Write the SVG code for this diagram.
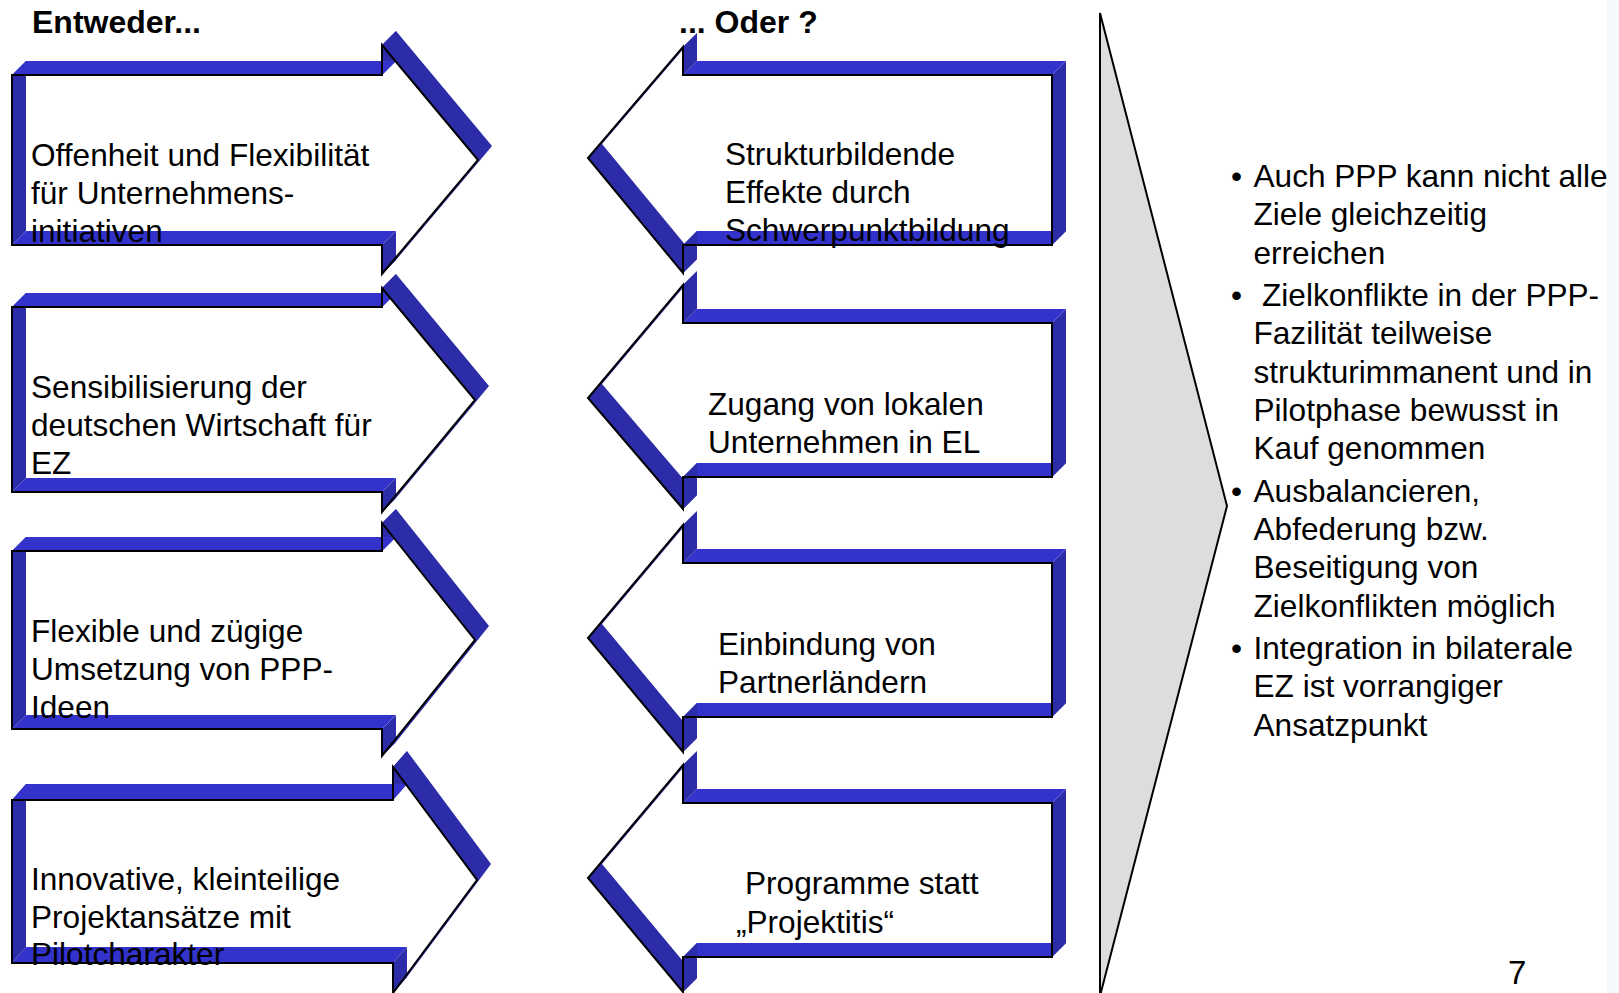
<svg xmlns="http://www.w3.org/2000/svg" width="1619" height="993" viewBox="0 0 1619 993">
<style>
  .lt{fill:#3333CC}
  .dk{fill:#2C2CA8}
  .ol{fill:none;stroke:#000;stroke-width:2;stroke-linejoin:miter}
  text{font-family:"Liberation Sans",Arial,sans-serif;fill:#000}
  .t{font-size:31.6px}
  .h{font-size:32px;font-weight:bold}
</style>
<rect x="0" y="0" width="1619" height="993" fill="#fff"/>
<rect x="1607" y="0" width="12" height="993" fill="#F3F9FB"/>

<text class="h" x="32" y="33">Entweder...</text>
<text class="h" x="679" y="33">... Oder ?</text>

<g id="node-L1">
  <path class="dk" d="M12,75 L26,61 L26,231 L12,245 Z M382,75 L382,45 L396,31 L396,61 Z M382,245 L382,274 L396,260 L396,231 Z"/>
  <path class="lt" d="M12,245 L26,231 L396,231 L382,245 Z"/>
  <path class="lt" d="M12,75 L26,61 L396,61 L382,75 Z"/>
  <path class="dk" d="M382,45 L478,160 L492,146 L396,31 Z M478,160 L382,274 L396,260 L492,146 Z"/>
  <path class="ol" d="M12,75 H382 V45 L478,160 L382,274 V245 H12 Z"/>
  <text class="t" x="31" y="166">Offenheit und Flexibilität</text>
  <text class="t" x="31" y="203.5">für Unternehmens-</text>
  <text class="t" x="31" y="241.5">initiativen</text>
</g>

<g id="node-L2">
  <path class="dk" d="M12,307 L26,293 L26,478 L12,492 Z M382,307 L382,288 L396,274 L396,293 Z M382,492 L382,512 L396,498 L396,478 Z"/>
  <path class="lt" d="M12,492 L26,478 L396,478 L382,492 Z"/>
  <path class="lt" d="M12,307 L26,293 L396,293 L382,307 Z"/>
  <path class="dk" d="M382,288 L475,400 L489,386 L396,274 Z M475,400 L382,512 L396,498 L489,386 Z"/>
  <path class="ol" d="M12,307 H382 V288 L475,400 L382,512 V492 H12 Z"/>
  <text class="t" x="31" y="398">Sensibilisierung der</text>
  <text class="t" x="31" y="436">deutschen Wirtschaft für</text>
  <text class="t" x="31" y="473.5">EZ</text>
</g>

<g id="node-L3">
  <path class="dk" d="M12,551 L26,537 L26,715 L12,729 Z M382,551 L382,523 L396,509 L396,537 Z M382,729 L382,756 L396,742 L396,715 Z"/>
  <path class="lt" d="M12,729 L26,715 L396,715 L382,729 Z"/>
  <path class="lt" d="M12,551 L26,537 L396,537 L382,551 Z"/>
  <path class="dk" d="M382,523 L475,640 L489,626 L396,509 Z M475,640 L382,756 L396,742 L489,626 Z"/>
  <path class="ol" d="M12,551 H382 V523 L475,640 L382,756 V729 H12 Z"/>
  <text class="t" x="31" y="642">Flexible und zügige</text>
  <text class="t" x="31" y="680">Umsetzung von PPP-</text>
  <text class="t" x="31" y="718">Ideen</text>
</g>

<g id="node-L4">
  <path class="dk" d="M12,800 L26,784 L26,947 L12,963 Z M393,800 L393,767 L407,751 L407,784 Z M393,963 L393,993 L407,977 L407,947 Z"/>
  <path class="lt" d="M12,963 L26,947 L407,947 L393,963 Z"/>
  <path class="lt" d="M12,800 L26,784 L407,784 L393,800 Z"/>
  <path class="dk" d="M393,767 L477,880 L491,864 L407,751 Z M477,880 L393,993 L407,977 L491,864 Z"/>
  <path class="ol" d="M12,800 H393 V767 L477,880 L393,993 V963 H12 Z"/>
  <text class="t" x="31" y="890">Innovative, kleinteilige</text>
  <text class="t" x="31" y="927.5">Projektansätze mit</text>
  <text class="t" x="31" y="965">Pilotcharakter</text>
</g>

<g id="node-R1">
  <path class="dk" d="M683,273 L588,158 L602,144 L697,259 Z M588,158 L683,47 L697,33 L602,144 Z"/>
  <path class="lt" d="M1052,245 L683,245 L697,231 L1066,231 Z"/>
  <path class="lt" d="M683,75 L697,61 L1066,61 L1052,75 Z"/>
  <path class="dk" d="M1052,75 L1066,61 L1066,231 L1052,245 Z M683,47 L683,75 L697,61 L697,33 Z M683,245 L683,273 L697,259 L697,231 Z"/>
  <path class="ol" d="M683,75 H1052 V245 H683 V273 L588,158 L683,47 Z"/>
  <text class="t" x="725" y="164.5">Strukturbildende</text>
  <text class="t" x="725" y="202.5">Effekte durch</text>
  <text class="t" x="725" y="240.5">Schwerpunktbildung</text>
</g>

<g id="node-R2">
  <path class="dk" d="M683,509 L588,398 L602,384 L697,495 Z M588,398 L683,285 L697,271 L602,384 Z"/>
  <path class="lt" d="M1052,477 L683,477 L697,463 L1066,463 Z"/>
  <path class="lt" d="M683,323 L697,309 L1066,309 L1052,323 Z"/>
  <path class="dk" d="M1052,323 L1066,309 L1066,463 L1052,477 Z M683,285 L683,323 L697,309 L697,271 Z M683,477 L683,509 L697,495 L697,463 Z"/>
  <path class="ol" d="M683,323 H1052 V477 H683 V509 L588,398 L683,285 Z"/>
  <text class="t" x="708" y="414.5">Zugang von lokalen</text>
  <text class="t" x="708" y="452.5">Unternehmen in EL</text>
</g>

<g id="node-R3">
  <path class="dk" d="M683,752 L588,638 L602,624 L697,738 Z M588,638 L683,525 L697,511 L602,624 Z"/>
  <path class="lt" d="M1052,717 L683,717 L697,703 L1066,703 Z"/>
  <path class="lt" d="M683,563 L697,549 L1066,549 L1052,563 Z"/>
  <path class="dk" d="M1052,563 L1066,549 L1066,703 L1052,717 Z M683,525 L683,563 L697,549 L697,511 Z M683,717 L683,752 L697,738 L697,703 Z"/>
  <path class="ol" d="M683,563 H1052 V717 H683 V752 L588,638 L683,525 Z"/>
  <text class="t" x="718" y="654.5">Einbindung von</text>
  <text class="t" x="718" y="692.5">Partnerländern</text>
</g>

<g id="node-R4">
  <path class="dk" d="M683,992 L588,878 L602,864 L697,978 Z M588,878 L683,765 L697,751 L602,864 Z"/>
  <path class="lt" d="M1052,957 L683,957 L697,943 L1066,943 Z"/>
  <path class="lt" d="M683,803 L697,789 L1066,789 L1052,803 Z"/>
  <path class="dk" d="M1052,803 L1066,789 L1066,943 L1052,957 Z M683,765 L683,803 L697,789 L697,751 Z M683,957 L683,992 L697,978 L697,943 Z"/>
  <path class="ol" d="M683,803 H1052 V957 H683 V992 L588,878 L683,765 Z"/>
  <text class="t" x="745" y="894">Programme statt</text>
  <text class="t" x="736" y="932.5">„Projektitis“</text>
</g>

<g id="connectors"></g>

<g id="node-summary">
  <polygon points="1100,13 1227,506 1100,996" fill="#DDDDDD" stroke="#000" stroke-width="2" stroke-linejoin="miter"/>
  <g class="t">
    <text class="t" x="1231" y="186.5">•</text>
    <text class="t" x="1253.5" y="186.5">Auch PPP kann nicht alle</text>
    <text class="t" x="1253.5" y="225">Ziele gleichzeitig</text>
    <text class="t" x="1253.5" y="263.5">erreichen</text>
    <text class="t" x="1231" y="306">•</text>
    <text class="t" x="1262" y="306">Zielkonflikte in der PPP-</text>
    <text class="t" x="1253.5" y="344">Fazilität teilweise</text>
    <text class="t" x="1253.5" y="382.5">strukturimmanent und in</text>
    <text class="t" x="1253.5" y="421">Pilotphase bewusst in</text>
    <text class="t" x="1253.5" y="459">Kauf genommen</text>
    <text class="t" x="1231" y="501.5">•</text>
    <text class="t" x="1253.5" y="501.5">Ausbalancieren,</text>
    <text class="t" x="1253.5" y="539.5">Abfederung bzw.</text>
    <text class="t" x="1253.5" y="578">Beseitigung von</text>
    <text class="t" x="1253.5" y="616.5">Zielkonflikten möglich</text>
    <text class="t" x="1231" y="659">•</text>
    <text class="t" x="1253.5" y="659">Integration in bilaterale</text>
    <text class="t" x="1253.5" y="697">EZ ist vorrangiger</text>
    <text class="t" x="1253.5" y="735.5">Ansatzpunkt</text>
  </g>
</g>

<text x="1508" y="984" style="font-size:33px">7</text>
</svg>
